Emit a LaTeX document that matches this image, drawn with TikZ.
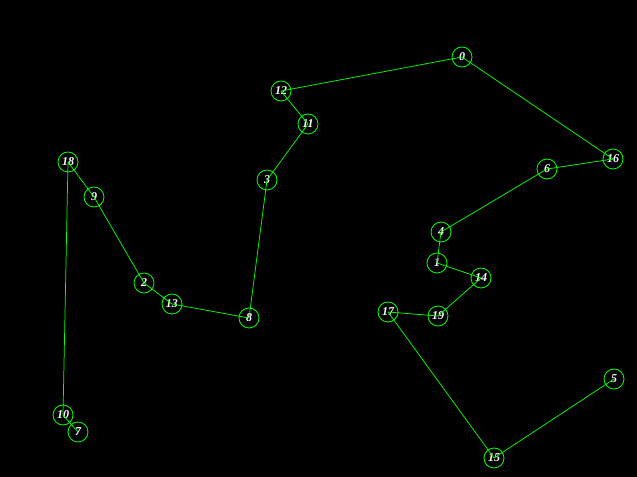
\documentclass[tikz,border=0pt]{standalone}
\usepackage{fontspec}
\setmainfont{Liberation Serif}

\tikzset{
  city/.style={circle, draw=green, line width=0.6pt, minimum size=15pt, inner sep=0pt,
    text=white, font=\fontsize{9}{9}\selectfont\bfseries\itshape},
  tour/.style={draw=green, line width=0.55pt}
}

\begin{document}
\begin{tikzpicture}[x=0.75pt, y=-0.75pt]
\fill[black] (0,0) rectangle (637,477);
\useasboundingbox (0,0) rectangle (637,477);
\node[city] (n0) at (462,57) {0};
\node[city] (n1) at (437,263) {1};
\node[city] (n2) at (144,283) {2};
\node[city] (n3) at (267,180) {3};
\node[city] (n4) at (441,232) {4};
\node[city] (n5) at (614,379) {5};
\node[city] (n6) at (547,169) {6};
\node[city] (n7) at (78,432) {7};
\node[city] (n8) at (249,318) {8};
\node[city] (n9) at (94,197) {9};
\node[city] (n10) at (63,415) {10};
\node[city] (n11) at (308,124) {11};
\node[city] (n12) at (281,91) {12};
\node[city] (n13) at (172,304) {13};
\node[city] (n14) at (481,278) {14};
\node[city] (n15) at (494,458) {15};
\node[city] (n16) at (613,159) {16};
\node[city] (n17) at (388,312) {17};
\node[city] (n18) at (68,162) {18};
\node[city] (n19) at (438,316) {19};
\foreach \a/\b in {5/15, 15/17, 17/19, 19/14, 14/1, 1/4, 4/6, 6/16, 16/0, 0/12,
  12/11, 11/3, 3/8, 8/13, 13/2, 2/9, 9/18, 18/10, 10/7}
  \draw[tour] (n\a.center) -- (n\b.center);
\end{tikzpicture}
\end{document}
